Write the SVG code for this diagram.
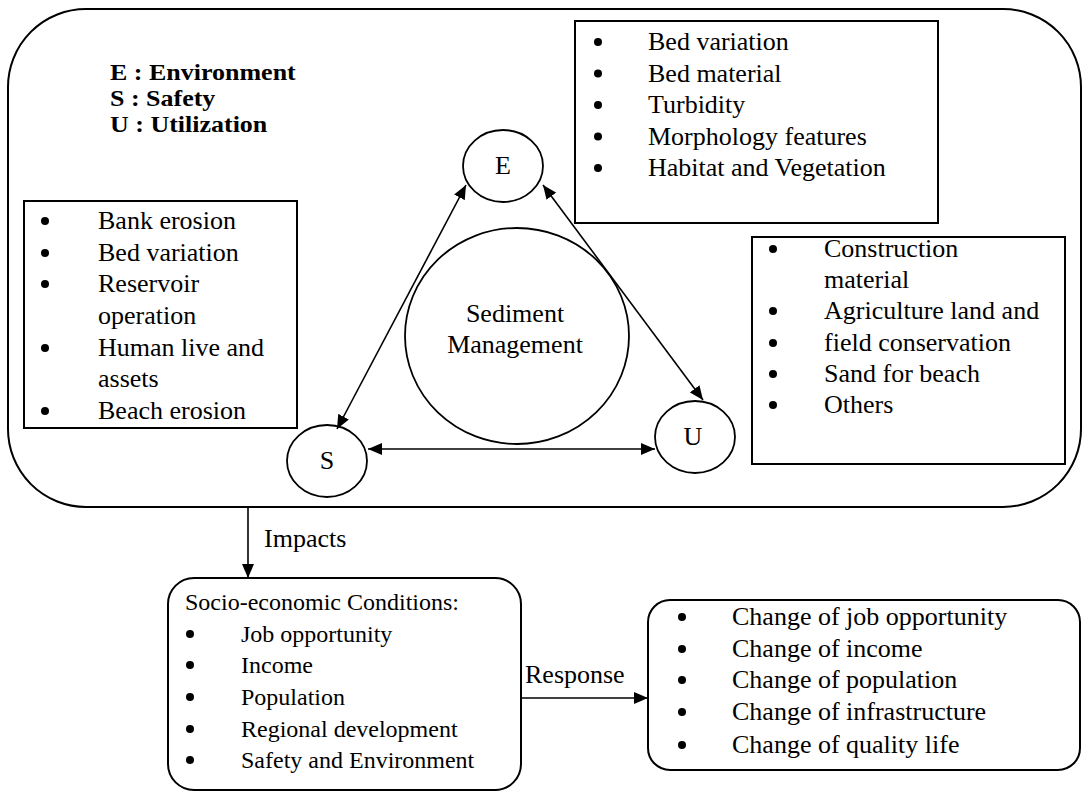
<svg xmlns="http://www.w3.org/2000/svg" width="1087" height="793" viewBox="0 0 1087 793">
<defs>
<style>
text{font-family:"Liberation Serif","Times New Roman",serif;fill:#000}
.t26{font-size:26px}
.t24{font-size:24px}
.lg{font-size:23px;font-weight:bold}
.box{fill:#fff;stroke:#000;stroke-width:2}
.nd{fill:#fff;stroke:#000;stroke-width:1.8}
.ln{fill:none;stroke:#000;stroke-width:1.6}
.bu{fill:#000}
</style>
<marker id="ah" viewBox="0 0 14 12" refX="14" refY="6" markerWidth="14" markerHeight="12" markerUnits="userSpaceOnUse" orient="auto-start-reverse">
<path d="M0,0 L14,6 L0,12 z" fill="#000"/>
</marker>
</defs>
<rect width="1087" height="793" fill="#fff"/>

<g id="outer">
<rect x="8" y="9" width="1073" height="498" rx="78" ry="78" class="box"/>
</g>

<g id="legend" transform="translate(110,0) scale(1.13,1)">
<text class="lg" x="0" y="80">E : Environment</text>
<text class="lg" x="0" y="106">S : Safety</text>
<text class="lg" x="0" y="132">U : Utilization</text>
</g>

<g id="env-box">
<rect x="575" y="21" width="363" height="202" class="box"/>
<circle class="bu" cx="598" cy="42" r="4"/>
<circle class="bu" cx="598" cy="73.5" r="4"/>
<circle class="bu" cx="598" cy="105" r="4"/>
<circle class="bu" cx="598" cy="136.5" r="4"/>
<circle class="bu" cx="598" cy="168" r="4"/>
<text class="t26" x="648" y="50">Bed variation</text>
<text class="t26" x="648" y="81.5">Bed material</text>
<text class="t26" x="648" y="113">Turbidity</text>
<text class="t26" x="648" y="144.5">Morphology features</text>
<text class="t26" x="648" y="176">Habitat and Vegetation</text>
</g>

<g id="safety-box">
<rect x="24" y="201" width="273" height="227" class="box"/>
<circle class="bu" cx="45" cy="221" r="4"/>
<circle class="bu" cx="45" cy="253" r="4"/>
<circle class="bu" cx="45" cy="284" r="4"/>
<circle class="bu" cx="45" cy="348" r="4"/>
<circle class="bu" cx="45" cy="411" r="4"/>
<text class="t26" x="98" y="229">Bank erosion</text>
<text class="t26" x="98" y="261">Bed variation</text>
<text class="t26" x="98" y="292">Reservoir</text>
<text class="t26" x="98" y="324">operation</text>
<text class="t26" x="98" y="356">Human live and</text>
<text class="t26" x="98" y="387">assets</text>
<text class="t26" x="98" y="419">Beach erosion</text>
</g>

<g id="util-box">
<rect x="752" y="237" width="313" height="227" class="box"/>
<circle class="bu" cx="773" cy="249" r="4"/>
<circle class="bu" cx="773" cy="311" r="4"/>
<circle class="bu" cx="773" cy="343" r="4"/>
<circle class="bu" cx="773" cy="374" r="4"/>
<circle class="bu" cx="773" cy="405" r="4"/>
<text class="t26" x="824" y="257">Construction</text>
<text class="t26" x="824" y="288">material</text>
<text class="t26" x="824" y="319">Agriculture land and</text>
<text class="t26" x="824" y="351">field conservation</text>
<text class="t26" x="824" y="382">Sand for beach</text>
<text class="t26" x="824" y="413">Others</text>
</g>

<g id="sediment">
<ellipse cx="517" cy="336" rx="112" ry="108" class="nd"/>
<text class="t26" x="515" y="322" text-anchor="middle">Sediment</text>
<text class="t26" x="515" y="353" text-anchor="middle">Management</text>
</g>

<g id="node-E">
<ellipse cx="503" cy="166" rx="40" ry="36" class="nd"/>
<text class="t26" x="503" y="174" text-anchor="middle">E</text>
</g>

<g id="node-S">
<ellipse cx="327" cy="461" rx="40" ry="36" class="nd"/>
<text class="t26" x="327" y="469" text-anchor="middle">S</text>
</g>

<g id="node-U">
<ellipse cx="695" cy="437" rx="40" ry="36" class="nd"/>
<text class="t26" x="693" y="445" text-anchor="middle">U</text>
</g>

<g id="socio">
<rect x="168" y="578" width="353" height="212" rx="26" ry="26" class="box"/>
<text class="t24" x="185" y="610">Socio-economic Conditions:</text>
<circle class="bu" cx="190" cy="634" r="4"/>
<circle class="bu" cx="190" cy="665" r="4"/>
<circle class="bu" cx="190" cy="697" r="4"/>
<circle class="bu" cx="190" cy="729" r="4"/>
<circle class="bu" cx="190" cy="760" r="4"/>
<text class="t24" x="241" y="642">Job opportunity</text>
<text class="t24" x="241" y="673">Income</text>
<text class="t24" x="241" y="705">Population</text>
<text class="t24" x="241" y="737">Regional development</text>
<text class="t24" x="241" y="768">Safety and Environment</text>
</g>

<g id="change">
<rect x="648" y="600" width="432" height="170" rx="22" ry="22" class="box"/>
<circle class="bu" cx="682" cy="617" r="4"/>
<circle class="bu" cx="682" cy="649" r="4"/>
<circle class="bu" cx="682" cy="680" r="4"/>
<circle class="bu" cx="682" cy="712" r="4"/>
<circle class="bu" cx="682" cy="745" r="4"/>
<text class="t26" x="732" y="625">Change of job opportunity</text>
<text class="t26" x="732" y="657">Change of income</text>
<text class="t26" x="732" y="688">Change of population</text>
<text class="t26" x="732" y="720">Change of infrastructure</text>
<text class="t26" x="732" y="753">Change of quality life</text>
</g>

<g id="connectors">
<line x1="337" y1="429" x2="466" y2="185" class="ln" marker-start="url(#ah)" marker-end="url(#ah)"/>
<line x1="543" y1="185" x2="703" y2="400" class="ln" marker-start="url(#ah)" marker-end="url(#ah)"/>
<line x1="368" y1="449" x2="655" y2="449" class="ln" marker-start="url(#ah)" marker-end="url(#ah)"/>
<line x1="248" y1="507" x2="248" y2="578" class="ln" marker-end="url(#ah)"/>
<line x1="521" y1="698" x2="648" y2="698" class="ln" marker-end="url(#ah)"/>
<text class="t26" x="264" y="547">Impacts</text>
<text class="t26" x="525" y="683">Response</text>
</g>
</svg>
